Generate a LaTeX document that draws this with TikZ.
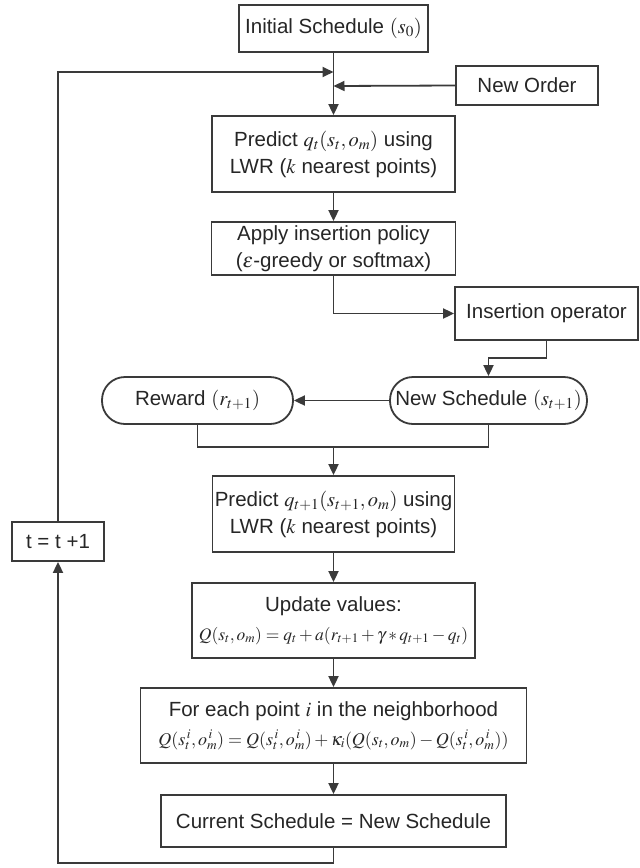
\documentclass[tikz,border=0pt]{standalone}
\usepackage{mathptmx}
\usepackage[no-math]{fontspec}
\setmainfont{Liberation Sans}
\usetikzlibrary{arrows.meta,calc}
\definecolor{linec}{HTML}{3A3A3A}
\definecolor{txtc}{HTML}{262626}
\newcommand{\fml}[1]{{\fontsize{#1}{22}\selectfont}}
\begin{document}
\begin{tikzpicture}[x=1pt,y=-1pt,
  every node/.style={font=\fontsize{20.5}{27}\selectfont, text=txtc, inner sep=0pt, align=center},
  box/.style={draw=linec, line width=1.8pt, rectangle},
  pill/.style={draw=linec, line width=1.8pt, rectangle, rounded corners=23pt},
  arr/.style={draw=linec, line width=1.8pt, -{Triangle[length=11pt,width=10pt]}},
  ln/.style={draw=linec, line width=1.8pt}]
\useasboundingbox (0,0) rectangle (640,868);
\fill[white] (0,0) rectangle (640,868);

\node[box, minimum width=189pt, minimum height=47pt] (init) at (333.5,28.5) {Initial Schedule $(s_0)$};
\node[box, minimum width=142pt, minimum height=39pt] (neworder) at (527,85.5) {New Order};
\node[box, minimum width=243pt, minimum height=76pt] (pred1) at (333.5,154) {Predict $q_t(s_t,o_m)$ using\\LWR ($k$ nearest points)};
\node[box, minimum width=244pt, minimum height=53pt] (apply) at (333.5,248.5) {Apply insertion policy\\($\varepsilon$-greedy or softmax)};
\node[box, minimum width=183pt, minimum height=53pt] (ins) at (546.5,313.5) {Insertion operator};
\node[pill, minimum width=191pt, minimum height=47pt] (reward) at (197.5,400.5) {Reward $(r_{t+1})$};
\node[pill, minimum width=197pt, minimum height=47pt] (newsch) at (488.5,400.5) {New Schedule $(s_{t+1})$};
\node[box, minimum width=242pt, minimum height=76pt] (pred2) at (333.5,514) {Predict $q_{t+1}(s_{t+1},o_m)$ using\\LWR ($k$ nearest points)};
\node[box, minimum width=283pt, minimum height=75pt] (update) at (333.5,620.5) {Update values:\\[2pt]{\fontsize{17.5}{22}\selectfont$Q(s_t,o_m) = q_t + a(r_{t+1} + \gamma * q_{t+1} - q_t)$}};
\node[box, minimum width=386pt, minimum height=75pt] (foreach) at (333.5,725.5) {For each point $i$ in the neighborhood\\[2pt]{\fontsize{18}{22}\selectfont$Q(s_t^{\,i},o_m^{\,i}) = Q(s_t^{\,i},o_m^{\,i}) + \kappa_i(Q(s_t,o_m) - Q(s_t^{\,i},o_m^{\,i}))$}};
\node[box, minimum width=345pt, minimum height=52pt] (current) at (333.5,821) {Current Schedule = New Schedule};
\node[box, minimum width=92pt, minimum height=39pt] (tbox) at (58,541.5) {t = t +1};

\coordinate (j1) at (333.5,72);
\coordinate (j2) at (333.5,86);
\coordinate (k1) at (488.5,358);
\coordinate (m1) at (333.5,447);
\coordinate (b1) at (58,863);

\draw[arr] (init.south) -- (pred1.north);
\draw[arr] (tbox.north) |- (j1);
\draw[arr] (neworder.west) -- (j2);
\draw[arr] (pred1.south) -- (apply.north);
\draw[arr] (apply.south) |- (ins.west);
\draw[arr] (ins.south) |- (k1) -- (newsch.north);
\draw[arr] (newsch.west) -- (reward.east);
\draw[ln] (reward.south) |- (m1) -| (newsch.south);
\draw[arr] (m1) -- (pred2.north);
\draw[arr] (pred2.south) -- (update.north);
\draw[arr] (update.south) -- (foreach.north);
\draw[arr] (foreach.south) -- (current.north);
\draw[arr] (current.south) |- (b1) -- (tbox.south);
\end{tikzpicture}
\end{document}
